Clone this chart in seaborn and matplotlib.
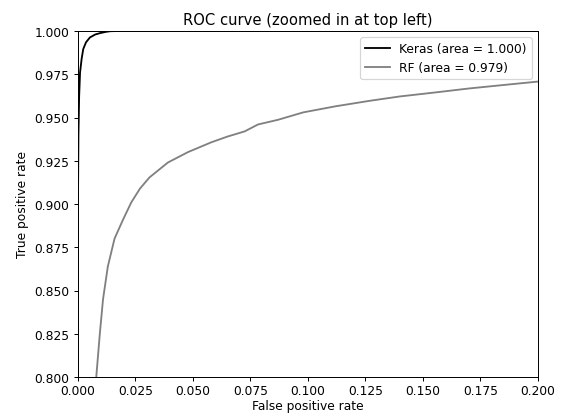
import numpy as np
import pandas as pd
import matplotlib
matplotlib.use("Agg")
import matplotlib.pyplot as plt
import seaborn as sns

# Keras ROC points
keras_fpr = [0.0, 0.0, 0.0002, 0.0005, 0.0009, 0.0016, 0.0023, 0.0035, 0.0052, 0.0075, 0.0096, 0.012, 0.014, 0.017, 0.2, 1.0]
keras_tpr = [0.0, 0.9, 0.94, 0.962, 0.976, 0.984, 0.9896, 0.9935, 0.9963, 0.998, 0.9988, 0.9995, 0.9999, 1.0, 1.0, 1.0]

# RF ROC points
rf_fpr = [0.0, 0.0078, 0.0080, 0.0095, 0.0109, 0.0130, 0.0159, 0.0196, 0.0232, 0.0270, 0.0311, 0.0391, 0.0478,
          0.0580, 0.0650, 0.0725, 0.0783, 0.0870, 0.0980, 0.1120, 0.1270, 0.1400, 0.1560, 0.1700, 0.1850, 0.1994, 0.21, 1.0]
rf_tpr = [0.0, 0.79, 0.8008, 0.825, 0.845, 0.864, 0.880, 0.891, 0.901, 0.909, 0.9154, 0.924, 0.930,
          0.9357, 0.939, 0.942, 0.946, 0.9487, 0.953, 0.9565, 0.9597, 0.9622, 0.9646, 0.9668, 0.9688, 0.9707, 0.9716, 1.0]

labels = ["Keras (area = 1.000)", "RF (area = 0.979)"]

df = pd.concat([
    pd.DataFrame({"fpr": keras_fpr, "tpr": keras_tpr, "model": labels[0]}),
    pd.DataFrame({"fpr": rf_fpr, "tpr": rf_tpr, "model": labels[1]}),
], ignore_index=True)

plt.rcParams.update(plt.rcParamsDefault)
fig = plt.figure(figsize=(6.4, 4.7), dpi=88.28)
ax = fig.add_axes([0.138, 0.089, 0.814, 0.834])

sns.lineplot(data=df, x="fpr", y="tpr", hue="model", palette={labels[0]: "black", labels[1]: "grey"},
             sort=False, estimator=None, linewidth=1.5, ax=ax)

ax.set_xlim(0, 0.2)
ax.set_ylim(0.8, 1.0)
ax.set_xticks(np.arange(0, 0.2001, 0.025))
ax.set_yticks(np.arange(0.8, 1.0001, 0.025))
ax.xaxis.set_major_formatter(matplotlib.ticker.FormatStrFormatter("%.3f"))
ax.yaxis.set_major_formatter(matplotlib.ticker.FormatStrFormatter("%.3f"))
ax.tick_params(axis="x", pad=2.5)
ax.set_xlabel("False positive rate", labelpad=1)
ax.set_ylabel("True positive rate")
ax.set_title("ROC curve (zoomed in at top left)")
ax.legend(loc="best", title=None)

fig.savefig("out.png", dpi=88.28)
